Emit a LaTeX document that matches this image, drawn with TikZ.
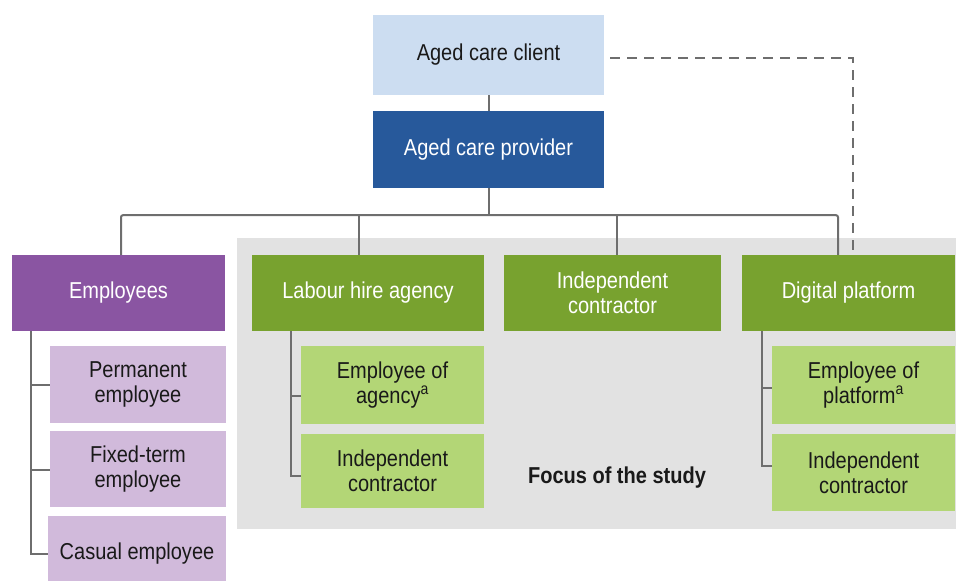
\documentclass[tikz,border=0pt]{standalone}
\usepackage{fontspec}
\setmainfont{Liberation Sans}[FakeStretch=0.87]
\usepackage{tikz}
\usetikzlibrary{positioning}
\usetikzlibrary{calc}

\definecolor{clientblue}{RGB}{204,221,241}
\definecolor{providerblue}{RGB}{39,89,155}
\definecolor{staffpurple}{RGB}{138,85,162}
\definecolor{staffpurplelight}{RGB}{209,186,219}
\definecolor{hiregreen}{RGB}{120,162,47}
\definecolor{hiregreenlight}{RGB}{179,214,118}
\definecolor{focusgray}{RGB}{226,226,226}
\definecolor{linkgray}{RGB}{110,110,110}
\definecolor{textdark}{RGB}{25,25,25}

\begin{document}
\begin{tikzpicture}[x=1pt,y=-1pt]

\tikzset{org box/.style={
		draw=none,
		minimum width=#1,
		minimum height=76pt,
		anchor=center,
		align=center,
		inner sep=0pt,
		font=\fontsize{23}{25}\selectfont
	},
	org box/.default=217pt,
	head box/.style={org box=#1, text=white},
	sub box/.style={org box=#1, text=textdark},
	link/.style={draw=linkgray, line width=2pt},
	dash link/.style={link, dash pattern=on 10pt off 7pt}
}

\useasboundingbox (0,0) rectangle (956,581);

% focus of the study
\fill[focusgray] (237,238) rectangle (956,529);
\node[font=\bfseries\fontsize{23}{25}\selectfont, text=textdark] (focus) at (617,478) {Focus of the study};

\node[sub box=231pt, minimum height=80pt, fill=clientblue] (client) at (488.5,55) {Aged care client};
\node[head box=231pt, minimum height=77pt, fill=providerblue] (provider) at (488.5,149.5) {Aged care provider};

\node[head box=213pt, fill=staffpurple] (employees) at (118.5,293) {Employees};
\node[head box=232pt, fill=hiregreen] (labour) at (368,293) {Labour hire agency};
\node[head box=217pt, fill=hiregreen] (contractor) at (612.5,293) {Independent\\contractor};
\node[head box=213pt, fill=hiregreen] (platform) at (848.5,293) {Digital platform};

\node[sub box=176pt, minimum height=77pt, fill=staffpurplelight] (permanent) at (138,384.5) {Permanent\\employee};
\node[sub box=176pt, fill=staffpurplelight] (fixedterm) at (138,469) {Fixed-term\\employee};
\node[sub box=178pt, fill=staffpurplelight] (casual) at (137,554) {Casual employee};

\node[sub box=183pt, minimum height=78pt, fill=hiregreenlight] (agencyemp) at (392.5,385) {Employee of\\agency\textsuperscript{a}};
\node[sub box=183pt, minimum height=74pt, fill=hiregreenlight] (agencycontr) at (392.5,471) {Independent\\contractor};

\node[sub box=183pt, minimum height=78pt, fill=hiregreenlight] (platformemp) at (863.5,385) {Employee of\\platform\textsuperscript{a}};
\node[sub box=183pt, minimum height=77pt, fill=hiregreenlight] (platformcontr) at (863.5,472.5) {Independent\\contractor};

% top of the tree
\draw[link] (client) -- (provider);
\draw[link] (provider.south) -- ++(0,27) coordinate (bus);
\draw[link, rounded corners=2pt] ([xshift=2.5pt]employees.north) |- ([xshift=-10.5pt]platform.north |- bus) -- ([xshift=-10.5pt]platform.north);
\draw[link] ([xshift=-9pt]labour.north) -- ([xshift=-9pt]labour.north |- bus);
\draw[link] ([xshift=4.5pt]contractor.north) -- ([xshift=4.5pt]contractor.north |- bus);
\draw[dash link] ([xshift=6pt,yshift=-3pt]client.east) -| ([xshift=4.5pt]platform.north);

% employees
\draw[link] ([xshift=19pt]employees.south west) coordinate (etrunk) |- (casual.west);
\draw[link] (permanent.west) -- (permanent.west -| etrunk);
\draw[link] ([yshift=-1pt]fixedterm.west) -- ([yshift=-1pt]fixedterm.west -| etrunk);

% labour hire agency
\draw[link] ([xshift=39pt]labour.south west) coordinate (ltrunk) |- ([yshift=-5pt]agencycontr.west);
\draw[link] ([yshift=-11pt]agencyemp.west) -- ([yshift=-11pt]agencyemp.west -| ltrunk);

% digital platform
\draw[link] ([xshift=20pt]platform.south west) coordinate (ptrunk) |- ([yshift=6.5pt]platformcontr.west);
\draw[link] ([yshift=-3pt]platformemp.west) -- ([yshift=-3pt]platformemp.west -| ptrunk);

\end{tikzpicture}
\end{document}
